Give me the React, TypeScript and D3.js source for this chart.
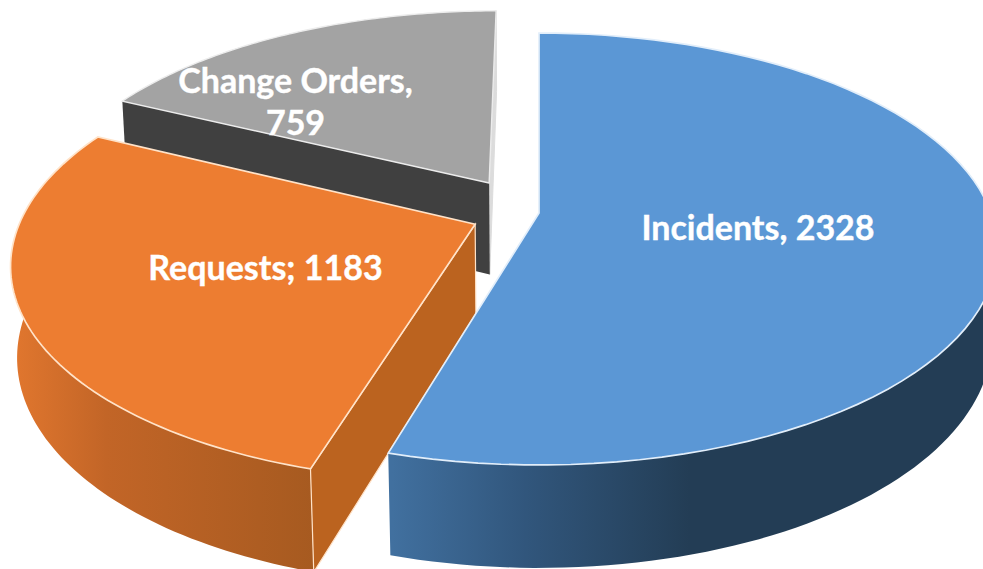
import React from "react";
import * as d3 from "d3";

const categories = ["Incidents", "Requests", "Change Orders"];
const values = [2328, 1183, 759];
const labelLines = [["Incidents, 2328"], ["Requests; 1183"], ["Change Orders,", "759"]];
const topColors = ["#5b97d5", "#ed7d31", "#a3a3a3"];
const edgeColors = ["#e2eefa", "#ffe3c9", "#ececec"];

const W = 983, H = 569;
// perspective projection of the pie plane
const CX = 539, CY = 213, RX = 452, RY = 210, TILT = 1 / 6, DEPTH = 90, DEPTH_P = 0.012;
const explodeX = [0, -0.14, -0.113];
const explodeY = [0, -0.053, 0.1465];
const wallZ = [1, 1, 1.05];
const labelX = [758, 265.5, 295.5];
const labelY = [240, 280, 93];

type P = [number, number];
const project = (X: number, Y: number, Z: number): P => {
  const s = 1 / (1 + TILT * Y + DEPTH_P * Z);
  return [CX + RX * X * s, CY - RY * Y * s + DEPTH * Z * s];
};

const pie = d3.pie<number>().sort(null).startAngle(0).endAngle(2 * Math.PI);
const arcs = pie(values);
const line = d3.line<P>();

const arcPts = (i: number, a0: number, a1: number, Z: number): P[] => {
  const n = 80;
  return d3.range(n + 1).map((k) => {
    const a = a0 + ((a1 - a0) * k) / n;
    return project(Math.sin(a) + explodeX[i], Math.cos(a) + explodeY[i], Z);
  });
};
const apex = (i: number, Z: number): P => project(explodeX[i], explodeY[i], Z);
const rad = (d: number) => (d * Math.PI) / 180;

export default function App() {
  const [blue, orange, gray] = arcs;
  const topFace = (i: number) => {
    const a = arcs[i];
    return line([apex(i, 0), ...arcPts(i, a.startAngle, a.endAngle, 0)])! + "Z";
  };
  const outerWall = (i: number, a0: number, a1: number) =>
    line([...arcPts(i, a0, a1, 0), ...arcPts(i, a0, a1, wallZ[i]).reverse()])! + "Z";
  const cutWall = (i: number, a: number) => {
    const t = arcPts(i, a, a, 0)[0];
    const b = arcPts(i, a, a, wallZ[i])[0];
    return line([apex(i, 0), t, b, apex(i, wallZ[i])])! + "Z";
  };

  return (
    <svg
      width={W}
      height={H}
      viewBox={`0 0 ${W} ${H}`}
      style={{ position: "absolute", left: 0, top: 0, background: "#fff" }}
    >
      <defs>
        <linearGradient id="wallBlue" gradientUnits="userSpaceOnUse" x1={392} x2={690} y1={0} y2={0}>
          <stop offset="0" stopColor="#41709f" />
          <stop offset="0.45" stopColor="#31567c" />
          <stop offset="1" stopColor="#233d55" />
        </linearGradient>
        <linearGradient id="wallOrange" gradientUnits="userSpaceOnUse" x1={16} x2={318} y1={0} y2={0}>
          <stop offset="0" stopColor="#e0762e" />
          <stop offset="0.3" stopColor="#c26527" />
          <stop offset="1" stopColor="#a65a20" />
        </linearGradient>
      </defs>

      {/* Change Orders */}
      <path d={cutWall(2, gray.endAngle)} fill="#dcdcdc" stroke="#dcdcdc" strokeWidth={1} />
      <path d={cutWall(2, gray.startAngle)} fill="#404040" />
      <path d={topFace(2)} fill={topColors[2]} stroke={edgeColors[2]} strokeWidth={1.4} />

      {/* Requests */}
      <path d={outerWall(1, orange.startAngle, rad(290))} fill="url(#wallOrange)" />
      <path d={cutWall(1, orange.startAngle)} fill="#bb631f" stroke={edgeColors[1]} strokeWidth={1.2} />
      <path d={topFace(1)} fill={topColors[1]} stroke={edgeColors[1]} strokeWidth={1.7} />

      {/* Incidents */}
      <path d={outerWall(0, rad(70), blue.endAngle)} fill="url(#wallBlue)" />
      <path d={topFace(0)} fill={topColors[0]} stroke={edgeColors[0]} strokeWidth={1.7} />

      {categories.map((c, i) => (
        <text
          key={c}
          textAnchor="middle"
          fill="#fff"
          stroke="#fff"
          strokeWidth={0.4}
          fontFamily="Lato, 'Open Sans', sans-serif"
          fontWeight={700}
          fontSize={34}
        >
          {labelLines[i].map((t, j) => (
            <tspan key={t} x={labelX[i]} y={labelY[i] + j * 42}>
              {t}
            </tspan>
          ))}
        </text>
      ))}
    </svg>
  );
}
